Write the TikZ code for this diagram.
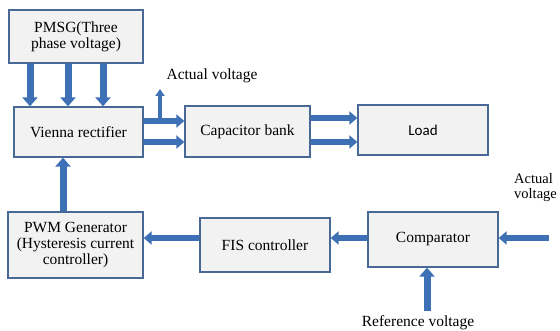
\documentclass[tikz,border=0pt]{standalone}
\usepackage{fontspec}
\setmainfont{Liberation Serif}
\newfontfamily\loadfont{Carlito}
\usetikzlibrary{arrows.meta}
\definecolor{boxfill}{RGB}{242,242,242}
\definecolor{boxline}{RGB}{72,104,150}
\definecolor{arrc}{RGB}{62,112,182}
\tikzset{
  blockbox/.style={draw=boxline, fill=boxfill, line width=1.3pt, inner sep=0pt, align=center, font=\fontsize{15.5}{16}\selectfont},
  fatarrow/.style={draw=arrc, line width=7pt, -{Triangle[width=15pt,length=9pt]}},
  midarrow/.style={draw=arrc, line width=6pt, -{Triangle[width=13pt,length=8pt]}},
  thinarrow/.style={draw=arrc, line width=4pt, -{Triangle[width=9pt,length=7pt]}},
  lbl/.style={font=\fontsize{15.5}{15}\selectfont, inner sep=0pt}
}
\begin{document}
\begin{tikzpicture}[x=1pt,y=-1pt]
\useasboundingbox (0,0) rectangle (560,331);
% boxes
\node[blockbox, minimum width=134pt, minimum height=53pt] (pmsg) at (76,36.5) {PMSG(Three\\phase voltage)};
\node[blockbox, minimum width=129pt, minimum height=50pt] (vienna) at (78.5,132) {Vienna rectifier};
\node[blockbox, minimum width=125pt, minimum height=51pt] (cap) at (247.5,131.5) {Capacitor bank};
\node[blockbox, minimum width=130pt, minimum height=50pt, font=\loadfont\fontsize{15}{16}\selectfont] (load) at (423,130) {Load};
\node[blockbox, minimum width=135pt, minimum height=66pt] (pwm) at (75.5,245) {PWM Generator\\(Hysteresis current\\controller)};
\node[blockbox, minimum width=130pt, minimum height=54pt] (fis) at (265,245) {FIS controller};
\node[blockbox, minimum width=130pt, minimum height=55pt] (comp) at (433,239.5) {Comparator};
% helper coordinates
\coordinate (x1) at (30,0);
\coordinate (x2) at (68,0);
\coordinate (x3) at (103,0);
\coordinate (y1) at (0,121);
\coordinate (y2) at (0,142);
\coordinate (y3) at (0,118);
\coordinate (y4) at (0,142);
\coordinate (x4) at (63,0);
\coordinate (y5) at (0,238);
\coordinate (tap) at (160,121);
\coordinate (avtop) at (160,89);
\coordinate (rin) at (549,238);
\coordinate (refin) at (427,311);
% arrows
\draw[fatarrow] (pmsg.south -| x1) -- (vienna.north -| x1);
\draw[fatarrow] (pmsg.south -| x2) -- (vienna.north -| x2);
\draw[fatarrow] (pmsg.south -| x3) -- (vienna.north -| x3);
\draw[midarrow] (vienna.east |- y1) -- (cap.west |- y1);
\draw[midarrow] (vienna.east |- y2) -- (cap.west |- y2);
\draw[thinarrow] ([yshift=3pt]tap) -- (avtop);
\draw[midarrow] (cap.east |- y3) -- (load.west |- y3);
\draw[midarrow] (cap.east |- y4) -- (load.west |- y4);
\draw[fatarrow] (pwm.north -| x4) -- (vienna.south -| x4);
\draw[midarrow] (fis.west |- y5) -- (pwm.east |- y5);
\draw[midarrow] (comp.west |- y5) -- (fis.east |- y5);
\draw[midarrow] (rin) -- (comp.east |- rin);
\draw[fatarrow] (refin) -- (comp.south -| refin);
% labels
\node[lbl] (av1) at (212,76) {Actual voltage};
\node[lbl, font=\fontsize{14.5}{15}\selectfont, anchor=north west, align=left] (av2) at (514,173) {Actual\\voltage};
\node[lbl] (rv) at (418,323) {Reference voltage};
\end{tikzpicture}
\end{document}
